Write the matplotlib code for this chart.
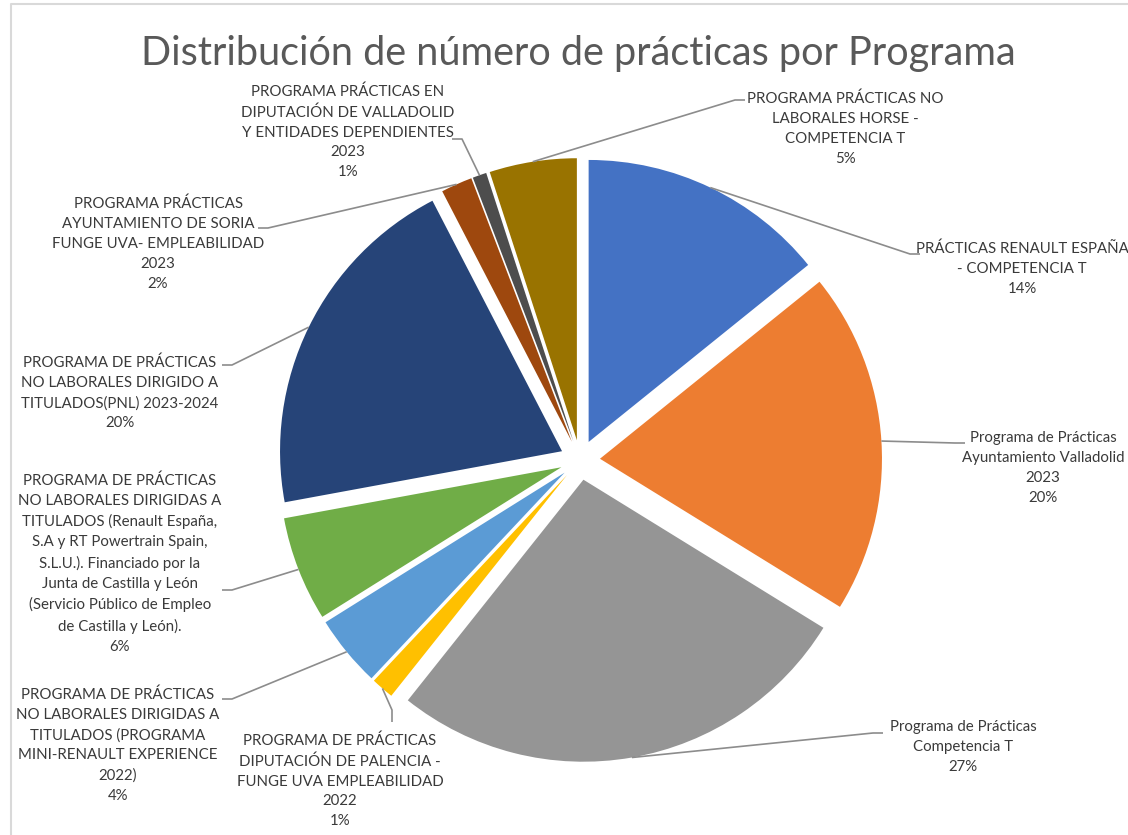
import numpy as np
import matplotlib
matplotlib.use('Agg')
import matplotlib.pyplot as plt

programas = [
    'PRÁCTICAS RENAULT ESPAÑA\n- COMPETENCIA T',
    'Programa de Prácticas\nAyuntamiento Valladolid\n2023',
    'Programa de Prácticas\nCompetencia T',
    'PROGRAMA DE PRÁCTICAS\nDIPUTACIÓN DE PALENCIA -\nFUNGE UVA EMPLEABILIDAD\n2022',
    'PROGRAMA DE PRÁCTICAS\nNO LABORALES DIRIGIDAS A\nTITULADOS (PROGRAMA\nMINI-RENAULT EXPERIENCE\n2022)',
    'PROGRAMA DE PRÁCTICAS\nNO LABORALES DIRIGIDAS A\nTITULADOS (Renault España,\nS.A y RT Powertrain Spain,\nS.L.U.). Financiado por la\nJunta de Castilla y León\n(Servicio Público de Empleo\nde Castilla y León).',
    'PROGRAMA DE PRÁCTICAS\nNO LABORALES DIRIGIDO A\nTITULADOS(PNL) 2023-2024',
    'PROGRAMA PRÁCTICAS\nAYUNTAMIENTO DE SORIA\nFUNGE UVA- EMPLEABILIDAD\n2023',
    'PROGRAMA PRÁCTICAS EN\nDIPUTACIÓN DE VALLADOLID\nY ENTIDADES DEPENDIENTES\n2023',
    'PROGRAMA PRÁCTICAS NO\nLABORALES HORSE -\nCOMPETENCIA T',
]
porcentajes = [14.2, 19.6, 26.9, 1.3, 4.1, 6.0, 20.3, 1.8, 0.8, 5.0]
colores = ['#4472C4', '#ED7D31', '#959595', '#FFC000', '#5B9BD5',
           '#70AD47', '#264478', '#9E480E', '#4D4D4D', '#997300']

# label layout (pixel coords, y down): text centre x, first line centre y
pos_texto = [(1022, 248), (1043, 438), (963, 727), (340, 740), (118, 694),
             (120, 480), (120, 362), (158, 203), (348, 91), (845, 98)]
# leader line: kink point and end point
guia = [((910, 254), (920, 254)), ((955, 443), (965, 443)), ((873, 733), (883, 733)),
        ((392, 710), (392, 722)), ((232, 699), (222, 699)), ((232, 590), (222, 590)),
        ((232, 365), (222, 365)), ((268, 228), (258, 228)), ((462, 139), (452, 139)),
        ((735, 100), (745, 100))]

plt.rcParams['font.family'] = ['Lato', 'DejaVu Sans']

fig = plt.figure(figsize=(11.28, 8.35), dpi=100)
ax = fig.add_axes([0, 0, 1, 1])

wedges, _ = ax.pie(porcentajes, colors=colores, startangle=-90, counterclock=True,
                   explode=[20] * len(porcentajes), radius=282, center=(580, 460),
                   wedgeprops=dict(linewidth=0))
ax.set_xlim(0, 1128)
ax.set_ylim(835, 0)
ax.axis('off')

line_h = 21.2
for w, txt, pct, (tx, ty), (kink, end) in zip(wedges, programas, porcentajes, pos_texto, guia):
    mid = np.deg2rad((w.theta1 + w.theta2) / 2)
    ax0 = w.center[0] + w.r * np.cos(mid)
    ay0 = w.center[1] + w.r * np.sin(mid)
    ax.plot([ax0, kink[0], end[0]], [ay0, kink[1], end[1]], color='#8C8C8C', lw=1.2,
            solid_capstyle='butt')
    ax.text(tx, ty - line_h / 2 + 4, f'{txt}\n{pct:.0f}%', ha='center', va='top',
            multialignment='center', fontsize=10.8, color='#3A3A3A', linespacing=1.54)

fig.text(578 / 1128, 1 - 53 / 835, 'Distribución de número de prácticas por Programa',
         ha='center', va='center', fontsize=28.5, color='#595959')

# chart border (top and left visible)
fig.add_artist(plt.Line2D([11 / 1128, 11 / 1128, 1], [0, 1 - 4 / 835, 1 - 4 / 835],
                          color='#D9D9D9', lw=1.5))

fig.savefig('out.png', dpi=100)
